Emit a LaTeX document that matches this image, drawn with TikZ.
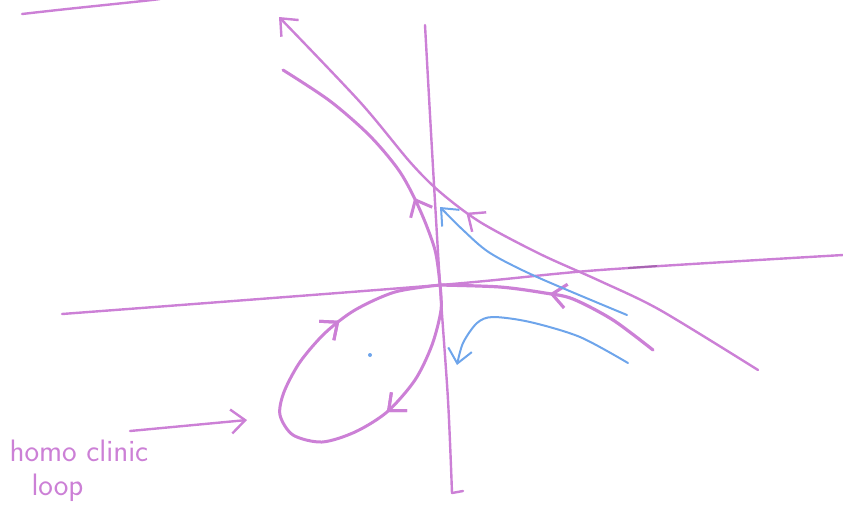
\documentclass[tikz,border=0pt]{standalone}
\usetikzlibrary{arrows.meta,decorations.markings}
\definecolor{pen}{RGB}{204,128,214}
\definecolor{darkpen}{RGB}{165,100,175}
\definecolor{bluepen}{RGB}{110,165,235}

\begin{document}
\begin{tikzpicture}[x=1pt, y=-1pt,
    ink/.style={pen, line width=2.4pt, line cap=round, line join=round},
    blueink/.style={bluepen, line width=2pt, line cap=round, line join=round},
    barb/.style={-{Straight Barb[length=14pt, width=24pt]}},
    midbarb/.style={postaction={decorate}, decoration={markings,
        mark=at position #1 with {\arrow{Straight Barb[length=14pt, width=24pt]}}}}]
    \useasboundingbox (0,0) rectangle (843,512);

    % Stray line, top left
    \draw[ink] plot[smooth] coordinates {(22,14) (67,9) (143,1) (160,-1)};

    % Axes
    \draw[ink] plot[smooth] coordinates {(62,314) (440,285) (600,270) (843,255)};
    \draw[darkpen, line width=1.8pt] (628,268) -- (657,266);
    \draw[ink] plot[smooth] coordinates {(425,25) (432,150) (440,285) (448,400) (452,493)};
    \draw[ink] (452,493) -- (463,491);

    % Long branch with arrow at top left
    \draw[ink, barb, midbarb=0.55] plot[smooth] coordinates
        {(758,370) (660,310) (600,281) (540,254) (480,222) (440,192) (410,162) (360,102) (279,17)};

    % Branch going up from the origin
    \draw[ink, line width=3pt, midbarb=0.33] plot[smooth] coordinates
        {(440,285) (435,250) (420,210) (400,172) (370,136) (330,101) (283,70)};

    % Homoclinic loop
    \draw[ink, line width=3pt, midbarb=0.29, midbarb=0.78] plot[smooth] coordinates
        {(440,285) (441,310) (432,345) (415,380) (387,412) (355,432) (322,442)
         (293,435) (280,415) (284,392) (300,362) (325,333) (355,310) (395,292) (440,285)};

    % Branch to the right
    \draw[ink, line width=3.2pt, midbarb=0.52] plot[smooth] coordinates
        {(653,350) (613,320) (573,299) (545,293) (500,287) (440,285)};

    % Blue orbits
    \draw[blueink, barb] plot[smooth] coordinates
        {(627,315) (537,277) (490,253) (463,230) (440,207)};
    \draw[blueink, barb] plot[smooth] coordinates
        {(628,363) (580,337) (530,322) (493,317) (477,323) (463,343) (457,365)};
    \fill[bluepen] (370,355) circle (2pt);

    % Label
    \node[text=pen, anchor=north west, align=left, font=\sffamily\fontsize{31}{34}\selectfont]
        (looplabel) at (6,436) {homo clinic\\\hspace*{22pt}loop};
    \coordinate (arrowtail) at (130,431);
    \coordinate (looptip) at (247,420);
    \draw[ink, barb] (arrowtail) -- (looptip);

\end{tikzpicture}
\end{document}
